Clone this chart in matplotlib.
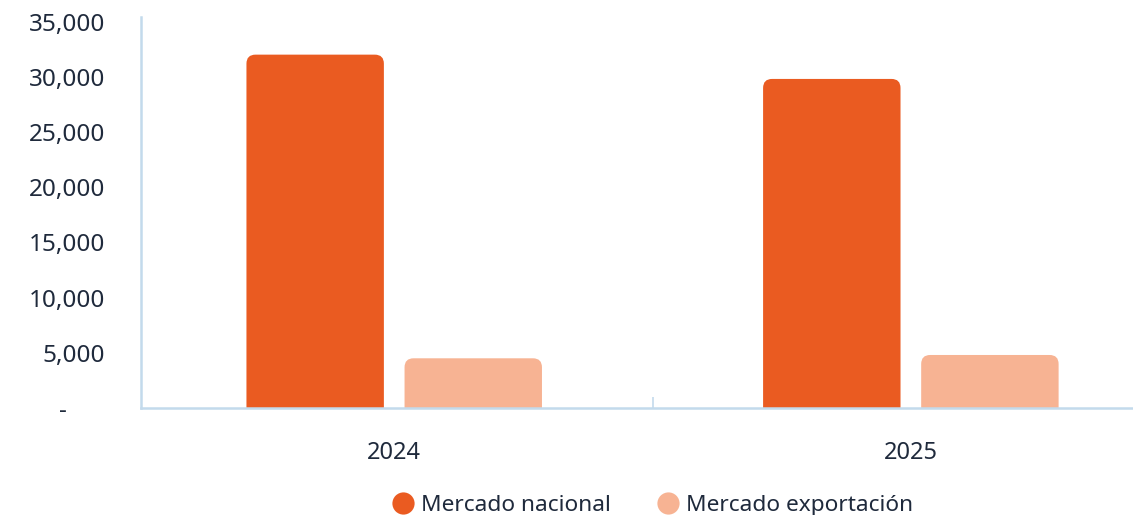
import matplotlib.pyplot as plt
from matplotlib.patches import FancyBboxPatch
from matplotlib.lines import Line2D
from matplotlib.ticker import FuncFormatter

years = ['2024', '2025']
nacional = [32000, 29800]
exportacion = [4500, 4800]
series_names = ['Mercado nacional', 'Mercado exportación']
colors = ['#EA5B21', '#F7B393']
y_ticks = [0, 5000, 10000, 15000, 20000, 25000, 30000, 35000]

plt.rcParams['font.family'] = ['Noto Sans', 'DejaVu Sans']
text_color = '#1F2A3C'
axis_color = '#C3DAEC'

fig = plt.figure(figsize=(11.33, 5.15), dpi=100)
ax = fig.add_axes([0.1245, 0.2078, 0.8755, 0.759])

xlim = (-0.49, 1.43)
ylim = (0, 35400)
ax.set_xlim(*xlim)
ax.set_ylim(*ylim)

width = 0.266
offset = 0.153
x = list(range(len(years)))

# rounding radius in pixels, converted to data units
ax_w_px = 0.8755 * 1133
ax_h_px = 0.759 * 515
ux = (xlim[1] - xlim[0]) / ax_w_px
uy = (ylim[1] - ylim[0]) / ax_h_px
r_px = 9

for vals, off, c in [(nacional, -offset, colors[0]), (exportacion, offset, colors[1])]:
    bars = ax.bar([i + off for i in x], vals, width=width, color='none')
    for b in bars:
        bx, bw, bh = b.get_x(), b.get_width(), b.get_height()
        patch = FancyBboxPatch((bx, -2000), bw, bh + 2000,
                               boxstyle=f'round,pad=0,rounding_size={r_px * ux}',
                               mutation_aspect=uy / ux,
                               facecolor=c, edgecolor='none', zorder=2)
        ax.add_patch(patch)

for s in ['top', 'right']:
    ax.spines[s].set_visible(False)
for s in ['left', 'bottom']:
    ax.spines[s].set_color(axis_color)
    ax.spines[s].set_linewidth(1.8)

ax.set_xticks(x)
ax.set_xticklabels(years)
ax.set_xticks([0.5], minor=True)
ax.tick_params(axis='x', which='major', length=0, pad=24, labelsize=17, labelcolor=text_color)
ax.tick_params(axis='x', which='minor', direction='in', length=8, width=1.2, color=axis_color)

ax.set_yticks(y_ticks)
ax.yaxis.set_major_formatter(FuncFormatter(lambda v, p: '-' + ' ' * 6 if v == 0 else f'{int(v):,}'))
ax.tick_params(axis='y', length=0, pad=26, labelsize=17.5, labelcolor=text_color)

handles = [Line2D([], [], marker='o', linestyle='none', markersize=16,
                  markerfacecolor=c, markeredgecolor='none') for c in colors]
fig.legend(handles, series_names, loc='center', bbox_to_anchor=(0.576, 0.019),
           ncol=2, frameon=False, fontsize=16.3, labelcolor=text_color,
           handletextpad=0.3, columnspacing=2.0, handlelength=1.0)

fig.savefig('out.png', dpi=100)
